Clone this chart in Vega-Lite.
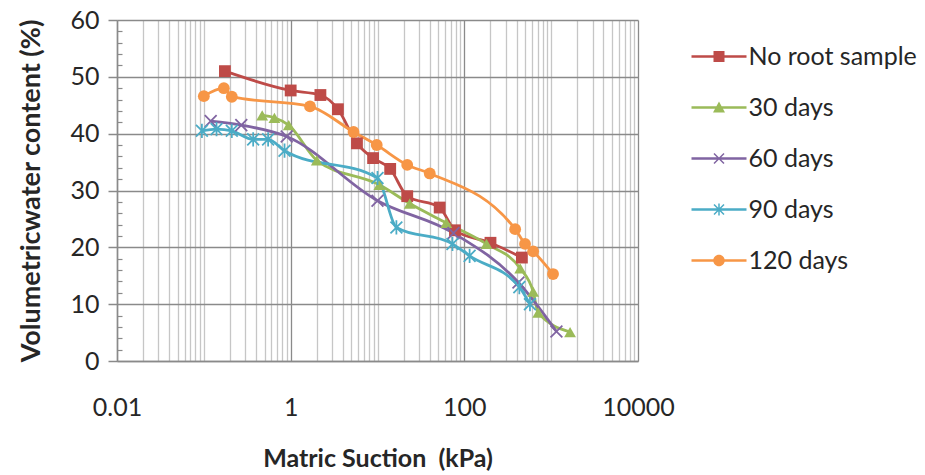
{
  "$schema": "https://vega.github.io/schema/vega-lite/v6.json",
  "autosize": "none",
  "width": 521,
  "height": 341,
  "padding": {"left": 117, "top": 20, "right": 287, "bottom": 114},
  "background": "white",
  "config": {"view": {"stroke": null}, "font": "Lato"},
  "data": {"values": [
    {"series": "No root sample", "suction": 0.175, "theta": 51},
    {"series": "No root sample", "suction": 1.0, "theta": 47.6},
    {"series": "No root sample", "suction": 2.2, "theta": 46.8},
    {"series": "No root sample", "suction": 3.5, "theta": 44.3},
    {"series": "No root sample", "suction": 5.8, "theta": 38.3},
    {"series": "No root sample", "suction": 8.9, "theta": 35.7},
    {"series": "No root sample", "suction": 14, "theta": 33.8},
    {"series": "No root sample", "suction": 22, "theta": 29},
    {"series": "No root sample", "suction": 52, "theta": 27},
    {"series": "No root sample", "suction": 78, "theta": 23},
    {"series": "No root sample", "suction": 200, "theta": 20.8},
    {"series": "No root sample", "suction": 460, "theta": 18.2},
    {"series": "30 days", "suction": 0.47, "theta": 43.2},
    {"series": "30 days", "suction": 0.65, "theta": 42.8},
    {"series": "30 days", "suction": 0.95, "theta": 41.5},
    {"series": "30 days", "suction": 2.0, "theta": 35.3},
    {"series": "30 days", "suction": 10.5, "theta": 31},
    {"series": "30 days", "suction": 23.5, "theta": 27.7},
    {"series": "30 days", "suction": 62, "theta": 24.3},
    {"series": "30 days", "suction": 180, "theta": 20.6},
    {"series": "30 days", "suction": 440, "theta": 16.3},
    {"series": "30 days", "suction": 620, "theta": 12.2},
    {"series": "30 days", "suction": 710, "theta": 8.5},
    {"series": "30 days", "suction": 1650, "theta": 5.1},
    {"series": "60 days", "suction": 0.12, "theta": 42.2},
    {"series": "60 days", "suction": 0.27, "theta": 41.5},
    {"series": "60 days", "suction": 0.9, "theta": 39.5},
    {"series": "60 days", "suction": 10, "theta": 28.2},
    {"series": "60 days", "suction": 75, "theta": 22.5},
    {"series": "60 days", "suction": 420, "theta": 13.8},
    {"series": "60 days", "suction": 1150, "theta": 5.2},
    {"series": "90 days", "suction": 0.095, "theta": 40.5},
    {"series": "90 days", "suction": 0.14, "theta": 40.8},
    {"series": "90 days", "suction": 0.21, "theta": 40.5},
    {"series": "90 days", "suction": 0.37, "theta": 39},
    {"series": "90 days", "suction": 0.55, "theta": 39},
    {"series": "90 days", "suction": 0.85, "theta": 37},
    {"series": "90 days", "suction": 10, "theta": 32.2},
    {"series": "90 days", "suction": 16.5, "theta": 23.5},
    {"series": "90 days", "suction": 73, "theta": 20.6},
    {"series": "90 days", "suction": 115, "theta": 18.5},
    {"series": "90 days", "suction": 430, "theta": 13},
    {"series": "90 days", "suction": 570, "theta": 10},
    {"series": "120 days", "suction": 0.1, "theta": 46.6},
    {"series": "120 days", "suction": 0.17, "theta": 48},
    {"series": "120 days", "suction": 0.21, "theta": 46.5},
    {"series": "120 days", "suction": 1.67, "theta": 44.8},
    {"series": "120 days", "suction": 5.3, "theta": 40.3},
    {"series": "120 days", "suction": 9.8, "theta": 38},
    {"series": "120 days", "suction": 22, "theta": 34.5},
    {"series": "120 days", "suction": 40, "theta": 33},
    {"series": "120 days", "suction": 385, "theta": 23.2},
    {"series": "120 days", "suction": 500, "theta": 20.6},
    {"series": "120 days", "suction": 620, "theta": 19.3},
    {"series": "120 days", "suction": 1050, "theta": 15.3}
  ]},
  "layer": [
    {
      "mark": {"type": "line", "strokeWidth": 2.8, "interpolate": "monotone"},
      "encoding": {
        "x": {"field": "suction", "type": "quantitative",
          "scale": {"type": "log", "domain": [0.01, 10000]},
          "axis": {
            "values": [0.01,0.02,0.03,0.04,0.05,0.06,0.07,0.08,0.09,0.1,0.2,0.3,0.4,0.5,0.6,0.7,0.8,0.9,1,2,3,4,5,6,7,8,9,10,20,30,40,50,60,70,80,90,100,200,300,400,500,600,700,800,900,1000,2000,3000,4000,5000,6000,7000,8000,9000,10000],
            "labelExpr": "datum.value == 0.01 ? '0.01' : datum.value == 1 ? '1' : datum.value == 100 ? '100' : datum.value == 10000 ? '10000' : ''",
            "grid": true,
            "gridColor": {"condition": {"test": "datum.value == 0.01 || datum.value == 1 || datum.value == 100 || datum.value == 10000", "value": "#8a8a8a"}, "value": "#c6c6c6"},
            "gridWidth": 1.3,
            "ticks": false,
            "domainColor": "#8a8a8a",
            "domainWidth": 1.5,
            "labelPadding": 34,
            "labelFontSize": 25,
            "labelColor": "#262626",
            "labelFont": "Lato",
            "labelOverlap": false,
            "labelFlush": false,
            "title": "Matric Suction\u00a0\u00a0(kPa)",
            "titleFont": "Lato",
            "titleFontSize": 25,
            "titleFontWeight": "bold",
            "titleColor": "#262626",
            "titlePadding": 26
          }},
        "y": {"field": "theta", "type": "quantitative",
          "scale": {"domain": [0, 60]},
          "axis": {
            "orient": "left",
            "values": [0,10,20,30,40,50,60],
            "grid": true,
            "gridColor": "#8a8a8a",
            "gridWidth": 1.5,
            "tickColor": "#8a8a8a",
            "tickSize": 9,
            "tickWidth": 1.5,
            "domainColor": "#8a8a8a",
            "domainWidth": 1.5,
            "labelFontSize": 25,
            "labelColor": "#262626",
            "labelFont": "Lato",
            "labelPadding": 9,
            "title": "Volumetricwater content (%)",
            "titleFont": "Lato",
            "titleFontSize": 27,
            "titleFontWeight": "bold",
            "titleColor": "#262626",
            "titlePadding": 24
          }},
        "color": {"field": "series", "type": "nominal", "legend": null,
          "scale": {"domain": ["No root sample", "30 days", "60 days", "90 days", "120 days"],
                    "range": ["#BE4B48", "#9BBB59", "#8064A2", "#4BACC6", "#F79646"]}}
      }
    },
    {
      "mark": {"type": "point", "filled": true, "opacity": 1, "size": 140},
      "encoding": {
        "x": {"field": "suction", "type": "quantitative"},
        "y": {"field": "theta", "type": "quantitative",
          "axis": {
            "orient": "left",
            "values": [2,4,6,8,12,14,16,18,22,24,26,28,32,34,36,38,42,44,46,48,52,54,56,58],
            "grid": false,
            "labels": false,
            "domain": false,
            "tickColor": "#8a8a8a",
            "tickSize": -5,
            "tickWidth": 1.2,
            "title": null
          }},
        "color": {"field": "series", "type": "nominal", "legend": null},
        "shape": {"field": "series", "type": "nominal", "legend": null,
          "scale": {"domain": ["No root sample", "30 days", "60 days", "90 days", "120 days"],
                    "range": ["square", "triangle-up", "M-0.894,-1.106L1.106,0.894L0.894,1.106L-1.106,-0.894ZM1.106,-0.894L-0.894,1.106L-1.106,0.894L0.894,-1.106Z", "M-0.894,-1.106L1.106,0.894L0.894,1.106L-1.106,-0.894ZM1.106,-0.894L-0.894,1.106L-1.106,0.894L0.894,-1.106ZM-0.15,-1.2L0.15,-1.2L0.15,1.2L-0.15,1.2Z", "circle"]}}
      }
    },
    {
      "mark": {"type": "point", "filled": true, "opacity": 0, "size": 100},
      "encoding": {
        "x": {"field": "suction", "type": "quantitative"},
        "y": {"field": "theta", "type": "quantitative", "axis": null},
        "fill": {"field": "series", "type": "nominal",
          "scale": {"domain": ["No root sample", "30 days", "60 days", "90 days", "120 days"],
                    "range": ["#BE4B48", "#9BBB59", "#8064A2", "#4BACC6", "#F79646"]},
          "legend": {
            "orient": "none", "legendX": 567, "legendY": 24, "title": null,
            "symbolSize": 100, "symbolOffset": 22.5, "labelOffset": 17, "rowPadding": 25,
            "labelFontSize": 25, "labelFont": "Lato", "labelColor": "#262626", "labelLimit": 400,
            "symbolStrokeWidth": 0, "symbolOpacity": 1
          }},
        "shape": {"field": "series", "type": "nominal",
          "scale": {"domain": ["No root sample", "30 days", "60 days", "90 days", "120 days"],
                    "range": [
                      "M-5.5,-0.25L5.5,-0.25L5.5,0.25L-5.5,0.25ZM-1.1,-1.1L1.1,-1.1L1.1,1.1L-1.1,1.1Z",
                      "M-5.5,-0.25L5.5,-0.25L5.5,0.25L-5.5,0.25ZM0,-1.2L1.2,1L-1.2,1Z",
                      "M-5.5,-0.25L5.5,-0.25L5.5,0.25L-5.5,0.25ZM-0.894,-1.106L1.106,0.894L0.894,1.106L-1.106,-0.894ZM1.106,-0.894L-0.894,1.106L-1.106,0.894L0.894,-1.106Z",
                      "M-5.5,-0.25L5.5,-0.25L5.5,0.25L-5.5,0.25ZM-0.894,-1.106L1.106,0.894L0.894,1.106L-1.106,-0.894ZM1.106,-0.894L-0.894,1.106L-1.106,0.894L0.894,-1.106ZM-0.15,-1.2L0.15,-1.2L0.15,1.2L-0.15,1.2Z",
                      "M-5.5,-0.25L5.5,-0.25L5.5,0.25L-5.5,0.25ZM1.15,0A1.15,1.15,0,1,1,-1.15,0A1.15,1.15,0,1,1,1.15,0Z"]},
          "legend": {
            "orient": "none", "legendX": 567, "legendY": 24, "title": null,
            "symbolSize": 100, "symbolOffset": 22.5, "labelOffset": 17, "rowPadding": 25,
            "labelFontSize": 25, "labelFont": "Lato", "labelColor": "#262626", "labelLimit": 400,
            "symbolStrokeWidth": 0, "symbolOpacity": 1
          }}
      }
    }
  ],
  "resolve": {"axis": {"y": "independent"}, "scale": {"shape": "independent", "fill": "independent"}}
}
